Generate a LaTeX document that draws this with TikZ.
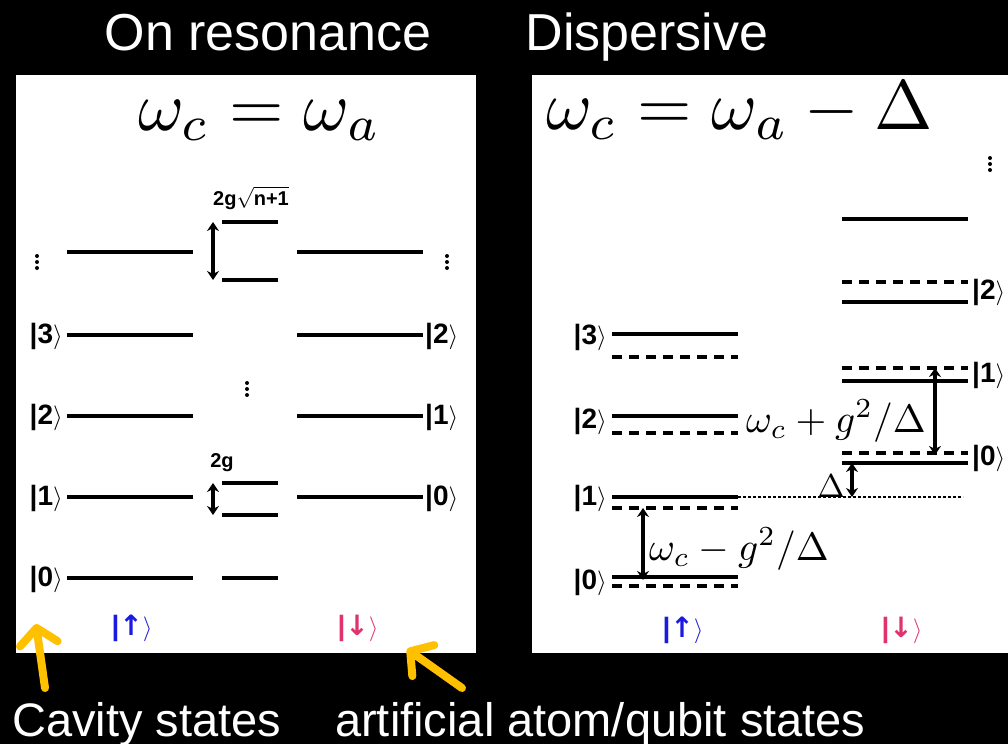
\documentclass[tikz,border=0pt]{standalone}
\usepackage{fontspec}
\setmainfont{Liberation Sans}
\newfontfamily\dejavu{DejaVu Sans}
\usetikzlibrary{arrows.meta}
\definecolor{kblue}{HTML}{1A1AE0}
\definecolor{kred}{HTML}{E0336B}
\definecolor{yel}{HTML}{FFC000}
\newcommand\kt[1]{|#1$\rangle$}
\tikzset{
  level/.style={line width=4pt},
  dlevel/.style={line width=3.2pt, dash pattern=on 10pt off 7pt},
  dotline/.style={line width=2.5pt, dash pattern=on 3pt off 2pt},
  ket/.style={font=\fontsize{28}{30}\selectfont\bfseries, inner sep=0pt},
  dbl/.style={line width=3.5pt, {Stealth[length=9pt,width=12pt]}-{Stealth[length=9pt,width=12pt]}},
  title/.style={white, font=\fontsize{52}{56}\selectfont, inner sep=0pt},
  mathlab/.style={inner sep=0pt},
  small/.style={font=\fontsize{20}{22}\selectfont\bfseries, inner sep=0pt},
  yarrow/.style={draw=yel, line width=8pt, line cap=round, -{Straight Barb[length=16pt,width=38pt,round]}},
  vdot/.style={fill=black}
}
\newcommand\vdotsat[2]{\fill[vdot] (#1,#2-6) circle (2pt) (#1,#2) circle (2pt) (#1,#2+6) circle (2pt);}
\begin{document}
\begin{tikzpicture}[x=1pt,y=-1pt]
\useasboundingbox (0,0) rectangle (1008,744);
\fill[black] (0,0) rectangle (1008,744);
\fill[white] (16,75) rectangle (476,653);
\fill[white] (532,75) rectangle (1008,653);
% titles
\node[title, anchor=base] (t1) at (268,50) {On resonance};
\node[title, anchor=base] (t2) at (647,50) {Dispersive};
\node[mathlab, anchor=base west] (eq1) at (138,130) {\scalebox{7.0}{$\omega_c=\omega_a$}};
\node[mathlab, anchor=base west] (eq2) at (546,129) {\scalebox{7.0}{$\omega_c=\omega_a-\Delta$}};
% ---------- left panel ----------
\foreach \yy in {252,335,416,497,578} \draw[level] (67,\yy) -- (193,\yy);
\foreach \yy in {252,335,416,497} \draw[level] (297,\yy) -- (423,\yy);
\foreach \yy in {222,280,483,515,578} \draw[level] (222,\yy) -- (278,\yy);
\vdotsat{37}{262}
\vdotsat{447}{262}
\vdotsat{247}{389}
\node[ket, anchor=east] (l3) at (63,336) {\kt{3}};
\node[ket, anchor=east] (l2) at (63,417) {\kt{2}};
\node[ket, anchor=east] (l1) at (63,498) {\kt{1}};
\node[ket, anchor=east] (l0) at (63,579) {\kt{0}};
\node[ket, anchor=west] (r2) at (425,336) {\kt{2}};
\node[ket, anchor=west] (r1) at (425,417) {\kt{1}};
\node[ket, anchor=west] (r0) at (425,498) {\kt{0}};
\coordinate (a1t) at (213,222);
\coordinate (a1b) at (213,280);
\coordinate (a2t) at (213,483);
\coordinate (a2b) at (213,515);
\draw[dbl] (a1t) -- (a1b);
\draw[dbl] (a2t) -- (a2b);
\node[small] (lab1) at (251,198) {2g$\sqrt{\mbox{\bfseries n+1}}$};
\node[small] (lab2) at (222,463) {2g};
\node[ket, text=kblue] (up1) at (132,628) {|{\dejavu\bfseries ↑}$\rangle$};
\node[ket, text=kred] (dn1) at (358,628) {|{\dejavu\bfseries ↓}$\rangle$};
% ---------- right panel ----------
\draw[level] (842,219) -- (968,219);
\draw[dlevel] (842,282) -- (968,282);
\draw[level] (842,302) -- (968,302);
\draw[dlevel] (842,368) -- (968,368);
\draw[level] (842,381) -- (968,381);
\draw[dlevel] (842,453) -- (968,453);
\draw[level] (842,463) -- (968,463);
\draw[level] (612,334) -- (738,334);
\draw[dlevel] (612,357) -- (738,357);
\draw[level] (612,416) -- (738,416);
\draw[dlevel] (612,433) -- (738,433);
\draw[level] (612,497) -- (738,497);
\draw[dlevel] (612,508) -- (738,508);
\draw[level] (612,577) -- (738,577);
\draw[dlevel] (612,586) -- (738,586);
\draw[dotline] (738,497) -- (963,497);
\vdotsat{990}{164}
\node[ket, anchor=east] (q3) at (607,337) {\kt{3}};
\node[ket, anchor=east] (q2) at (607,421) {\kt{2}};
\node[ket, anchor=east] (q1) at (607,498) {\kt{1}};
\node[ket, anchor=east] (q0) at (607,582) {\kt{0}};
\node[ket, anchor=west] (p2) at (972,292) {\kt{2}};
\node[ket, anchor=west] (p1) at (972,375) {\kt{1}};
\node[ket, anchor=west] (p0) at (972,458) {\kt{0}};
\coordinate (b1t) at (935,368);
\coordinate (b1b) at (935,455);
\coordinate (b2t) at (643,508);
\coordinate (b2b) at (643,580);
\coordinate (b3t) at (852,463);
\coordinate (b3b) at (852,497);
\draw[dbl] (b1t) -- (b1b);
\draw[dbl] (b2t) -- (b2b);
\draw[dbl] (b3t) -- (b3b);
\node[mathlab, anchor=west] (m1) at (746,421) {\scalebox{3.95}{$\omega_c+g^2/\Delta$}};
\node[mathlab, anchor=west] (m2) at (649,549) {\scalebox{3.95}{$\omega_c-g^2/\Delta$}};
\node[mathlab, anchor=base] (dl) at (831,497) {\scalebox{3.3}{$\Delta$}};
\node[ket, text=kblue] (up2) at (683,630) {|{\dejavu\bfseries ↑}$\rangle$};
\node[ket, text=kred] (dn2) at (902,630) {|{\dejavu\bfseries ↓}$\rangle$};
% ---------- bottom ----------
\coordinate (y1s) at (45,688);
\coordinate (y1e) at (36,624);
\coordinate (y2s) at (462,688);
\coordinate (y2e) at (407,649);
\draw[yarrow] (y1s) -- (y1e);
\draw[yarrow] (y2s) -- (y2e);
\node[white, font=\fontsize{47}{50}\selectfont, inner sep=0pt, anchor=base west] (c1) at (12,736) {Cavity states};
\node[white, font=\fontsize{47}{50}\selectfont, inner sep=0pt, anchor=base west] (c2) at (335,736) {artificial atom/qubit states};
\end{tikzpicture}
\end{document}
